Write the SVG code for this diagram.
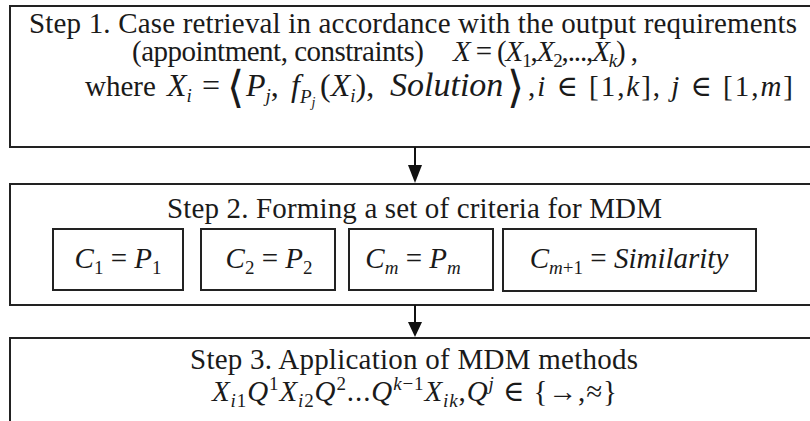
<svg xmlns="http://www.w3.org/2000/svg" width="810" height="421" viewBox="0 0 810 421">
<style>
text{font-family:"Liberation Serif","Times New Roman","DejaVu Serif",serif;font-size:29px;fill:#1a1a1a}
.m{font-size:32px}
.i{font-style:italic}
.s{font-size:19px}
.ss{font-size:14px}
.big{font-size:44px;font-family:"DejaVu Serif","Liberation Serif",serif}
.box{fill:#fff;stroke:#222;stroke-width:2}
.ln{stroke:#111;stroke-width:2;fill:none}
.ah{fill:#111}
</style>
<rect width="810" height="421" fill="#fff"/>
<g id="step1">
<rect class="box" x="10" y="6" width="820" height="141"/>
<text x="29" y="33" textLength="768" lengthAdjust="spacing">Step 1. Case retrieval in accordance with the output requirements</text>
<text x="132" y="61" textLength="292" lengthAdjust="spacing">(appointment, constraints)</text>
<text x="453" y="61" textLength="185" lengthAdjust="spacing"><tspan class="i">X</tspan> = (<tspan class="i">X</tspan><tspan class="s" dy="6">1</tspan><tspan dy="-6">,</tspan><tspan class="i">X</tspan><tspan class="s" dy="6">2</tspan><tspan dy="-6">,...,</tspan><tspan class="i">X</tspan><tspan class="s i" dy="6">k</tspan><tspan dy="-6">) ,</tspan></text>
<text x="85" y="96">where</text>
<text class="m" x="167" y="96"><tspan class="i">X</tspan><tspan class="s i" dy="6">i</tspan></text>
<text class="m" x="202" y="96">=</text>
<text class="big" x="227" y="102">⟨</text>
<text class="m" x="246" y="96"><tspan class="i">P</tspan><tspan class="s i" dy="6">j</tspan><tspan dy="-6">,</tspan></text>
<text class="m" x="291" y="96"><tspan class="i">f</tspan><tspan class="s i" dy="7">P</tspan><tspan class="ss i" dy="4">j</tspan></text>
<text class="m" x="320" y="96">(<tspan class="i">X</tspan><tspan class="s i" dy="6">i</tspan><tspan dy="-6">),</tspan></text>
<text class="i" x="390" y="96" style="font-size:34px">Solution</text>
<text class="big" x="507" y="102">⟩</text>
<text x="528" y="96" textLength="265" lengthAdjust="spacing">,<tspan class="i">i</tspan> ∈ [1,<tspan class="i">k</tspan>], <tspan class="i">j</tspan> ∈ [1,<tspan class="i">m</tspan>]</text>
</g>
<g id="step2">
<rect class="box" x="10" y="184" width="820" height="121"/>
<text x="167" y="218" textLength="495" lengthAdjust="spacing">Step 2. Forming a set of criteria for MDM</text>
<g id="c1">
<rect class="box" x="53" y="229" width="130" height="61"/>
<text x="118" y="268" text-anchor="middle"><tspan class="i">C</tspan><tspan class="s" dy="6">1</tspan><tspan dy="-6"> = </tspan><tspan class="i">P</tspan><tspan class="s" dy="6">1</tspan></text>
</g>
<g id="c2">
<rect class="box" x="201" y="229" width="134" height="61"/>
<text x="269" y="268" text-anchor="middle"><tspan class="i">C</tspan><tspan class="s" dy="6">2</tspan><tspan dy="-6"> = </tspan><tspan class="i">P</tspan><tspan class="s" dy="6">2</tspan></text>
</g>
<g id="cm">
<rect class="box" x="349" y="229" width="144" height="61"/>
<text x="413" y="268" text-anchor="middle"><tspan class="i">C</tspan><tspan class="s i" dy="6">m</tspan><tspan dy="-6"> = </tspan><tspan class="i">P</tspan><tspan class="s i" dy="6">m</tspan></text>
</g>
<g id="cm1">
<rect class="box" x="503" y="229" width="253" height="62"/>
<text x="629" y="268" text-anchor="middle"><tspan class="i">C</tspan><tspan class="s" dy="6"><tspan class="i">m</tspan>+1</tspan><tspan dy="-6"> = </tspan><tspan class="i">Similarity</tspan></text>
</g>
</g>
<g id="step3">
<rect class="box" x="10" y="338" width="820" height="100"/>
<text x="190" y="369" textLength="448" lengthAdjust="spacing">Step 3. Application of MDM methods</text>
<text x="212" y="401" textLength="405" lengthAdjust="spacing"><tspan class="i">X</tspan><tspan class="s i" dy="6">i</tspan><tspan class="s">1</tspan><tspan class="i" dy="-6">Q</tspan><tspan class="s" dy="-11">1</tspan><tspan class="i" dy="11">X</tspan><tspan class="s i" dy="6">i</tspan><tspan class="s">2</tspan><tspan class="i" dy="-6">Q</tspan><tspan class="s" dy="-11">2</tspan><tspan dy="11">...</tspan><tspan class="i">Q</tspan><tspan class="s" dy="-11"><tspan class="i">k</tspan>−1</tspan><tspan class="i" dy="11">X</tspan><tspan class="s i" dy="6">ik</tspan><tspan dy="-6">,</tspan><tspan class="i">Q</tspan><tspan class="s i" dy="-11">j</tspan><tspan dy="11"> ∈ {→,≈}</tspan></text>
</g>
<g id="connectors">
<line class="ln" x1="415" y1="147" x2="415" y2="167"/>
<polygon class="ah" points="408,165 422,165 415,183"/>
<line class="ln" x1="415" y1="305" x2="415" y2="324"/>
<polygon class="ah" points="408,322 422,322 415,337"/>
</g>
</svg>
